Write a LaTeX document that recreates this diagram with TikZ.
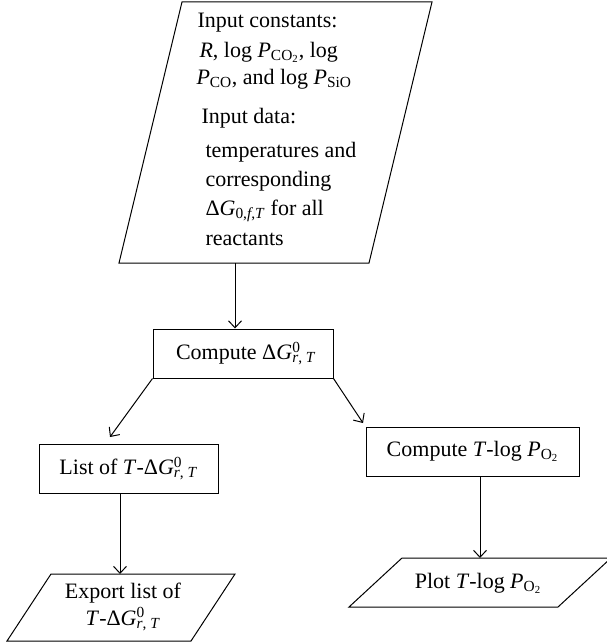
\documentclass[tikz,border=0pt]{standalone}
\usepackage{fontspec}
\setmainfont{Liberation Serif}
\usetikzlibrary{arrows.meta,calc}
\newcommand\Sb[1]{\textsubscript{#1}}
\newcommand\SpSb[2]{\rlap{\textsuperscript{#1}}\textsubscript{#2}}
\newcommand\It[1]{\textit{#1}}
\begin{document}
\begin{tikzpicture}[x=1pt,y=-1pt,line width=1pt,
  >={Straight Barb[length=7pt,width=13pt]},
  txt/.style={inner sep=0pt,font=\fontsize{22}{28}\selectfont},
  box/.style={draw,rectangle,inner sep=0pt,minimum height=49pt,font=\fontsize{22}{28}\selectfont},
  conn/.style={->}]
\useasboundingbox (0,0) rectangle (607,642);
% input parallelogram
\coordinate (inTL) at (182,2);
\coordinate (inTR) at (432,2);
\coordinate (inBR) at (369,263);
\coordinate (inBL) at (119,263);
\draw (inTL) -- (inTR) -- (inBR) -- (inBL) -- cycle;
\coordinate (inOut) at (235,263);
\node[txt,anchor=base west] (t1) at (197,28) {Input constants:};
\node[txt,anchor=base west] (t2) at (199,57) {\It{R}, log \It{P}\Sb{CO\Sb{2}}, log};
\node[txt,anchor=base west] (t3) at (196,84) {\It{P}\Sb{CO}, and log \It{P}\Sb{SiO}};
\node[txt,anchor=base west] (t4) at (201,123) {Input data:};
\node[txt,anchor=base west] (t5) at (205,157) {temperatures and};
\node[txt,anchor=base west] (t6) at (205,186) {corresponding};
\node[txt,anchor=base west] (t7) at (205,215) {Δ\It{G}\Sb{0,\It{f},\It{T}} for all};
\node[txt,anchor=base west] (t8) at (205,245) {reactants};
% boxes
\node[box,minimum width=180pt] (comp) at (243,353.5) {\hspace*{6pt}Compute Δ\It{G}\SpSb{0}{\It{r}, \It{T}}};
\node[box,minimum width=179pt] (list) at (128.5,468.5) {List of \It{T}-Δ\It{G}\SpSb{0}{\It{r}, \It{T}}};
\node[box,minimum width=213pt] (ct) at (472.5,451.5) {Compute \It{T}-log \It{P}\Sb{O\Sb{2}}};
% export parallelogram
\coordinate (exTL) at (51,574);
\coordinate (exTR) at (235,574);
\coordinate (exBR) at (191,641);
\coordinate (exBL) at (7,641);
\draw (exTL) -- (exTR) -- (exBR) -- (exBL) -- cycle;
\coordinate (exIn) at (120,574);
\node[txt,anchor=base] (e1) at (123,598) {Export list of};
\node[txt,anchor=base] (e2) at (123,625) {\It{T}-Δ\It{G}\SpSb{0}{\It{r}, \It{T}}};
% plot parallelogram
\coordinate (plTL) at (402,558);
\coordinate (plTR) at (611,558);
\coordinate (plBR) at (558,607);
\coordinate (plBL) at (349,607);
\draw (plTL) -- (plTR) -- (plBR) -- (plBL) -- cycle;
\coordinate (plIn) at (480,558);
\node[txt,anchor=base] (p1) at (478,588) {Plot \It{T}-log \It{P}\Sb{O\Sb{2}}};
% connectors
\coordinate (lArr) at (110,437);
\coordinate (rArr) at (363,423);
\draw[conn] (inOut) -- (inOut |- comp.north);
\draw[conn] (comp.south west) -- (lArr);
\draw[conn] (comp.south east) -- (rArr);
\draw[conn] (list.south -| exIn) -- (exIn);
\draw[conn] (ct.south -| plIn) -- (plIn);
\end{tikzpicture}
\end{document}
